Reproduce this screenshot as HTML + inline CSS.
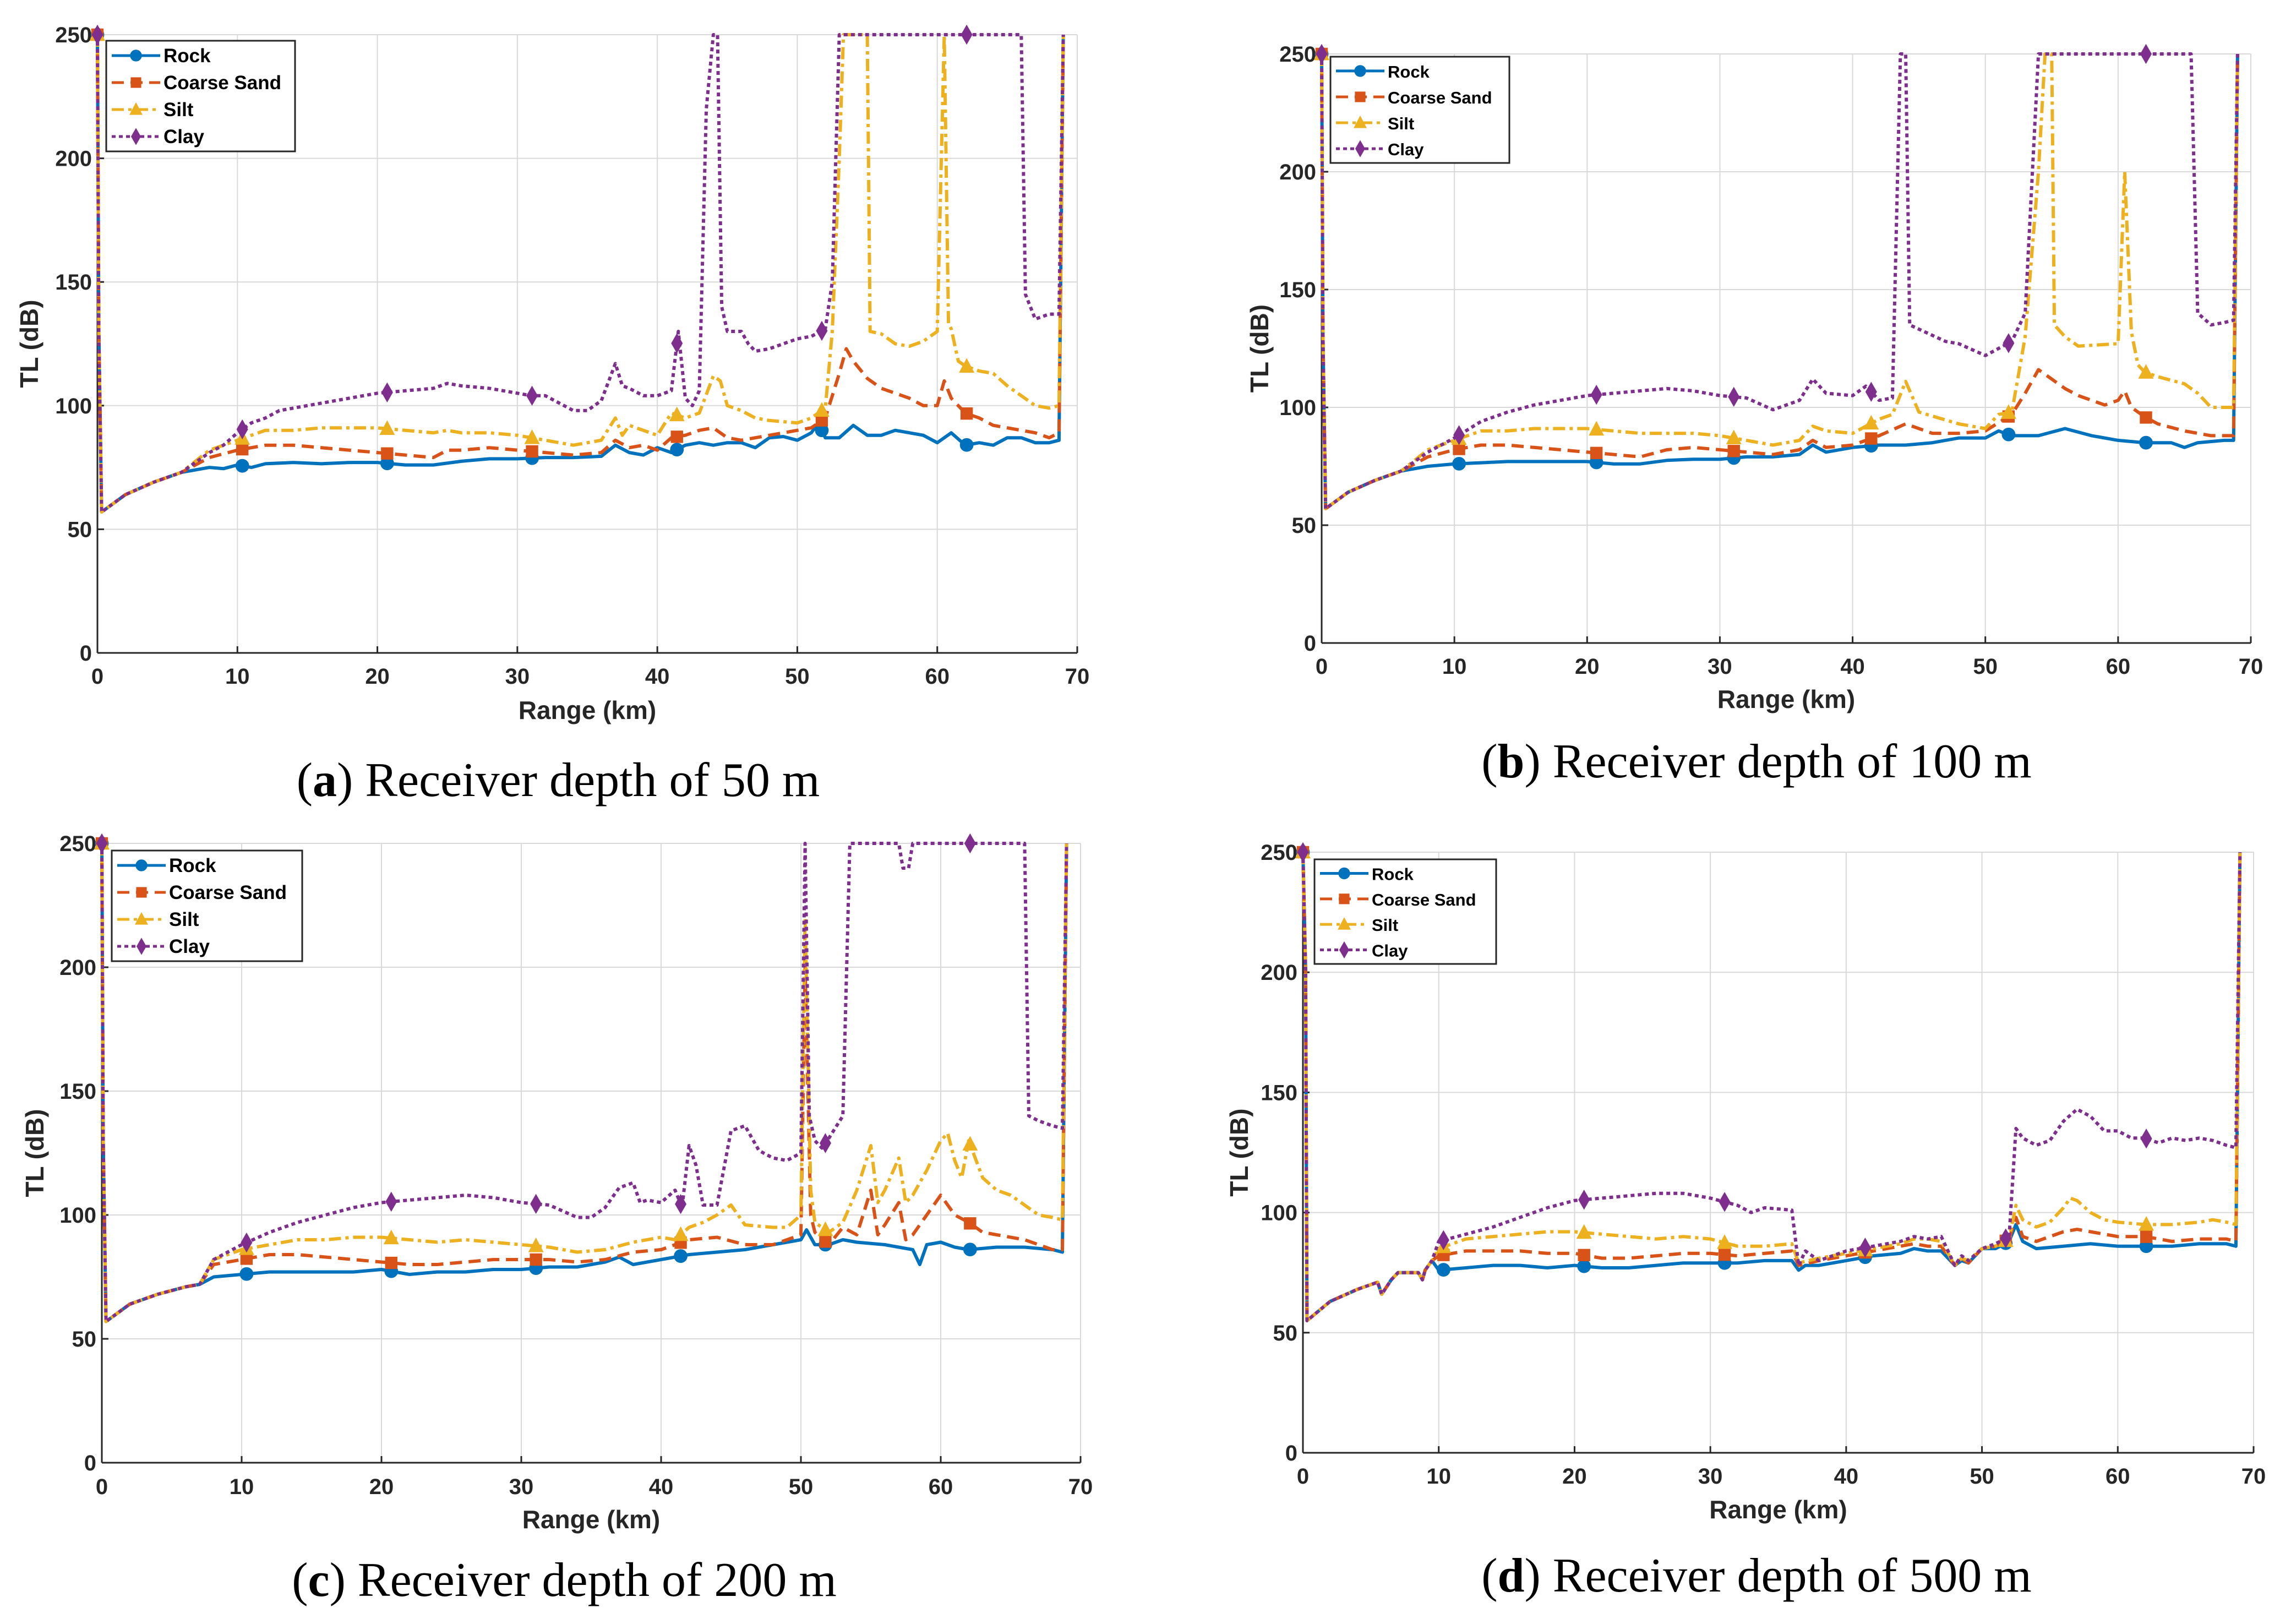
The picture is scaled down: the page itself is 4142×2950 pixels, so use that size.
<!DOCTYPE html>
<html><head><meta charset="utf-8">
<style>
html,body{margin:0;padding:0;background:#fff;}
svg{display:block;}
text{font-family:"Liberation Sans Narrow","Liberation Sans",sans-serif;}
.cap{font-family:"Liberation Serif",serif;font-size:88px;fill:#000;}
</style></head>
<body>
<svg id="fig" width="4142" height="2950" viewBox="0 0 4142 2950" xmlns="http://www.w3.org/2000/svg"></svg>
<script>
// ---- data ----
const xTicks = [0,10,20,30,40,50,60,70];
const yTicks = [0,50,100,150,200,250];
const seriesNames = ["Rock","Coarse Sand","Silt","Clay"];
const markerX = [0,10.35,20.7,31.05,41.4,51.75,62.1];
const captionsLetter = ["a","b","c","d"];
const captionsText = [") Receiver depth of 50 m",") Receiver depth of 100 m",") Receiver depth of 200 m",") Receiver depth of 500 m"];

const startA = [[0,250],[0.1,130],[0.3,57],[2,64],[4,69],[6,73]];
const a_rock = startA.concat([[8,75],[9,74.5],[10,76],[11,75],[12,76.5],[14,77],[16,76.5],[18,77],[20,77],[22,76],[24,76],[26,77.5],[28,78.5],[30,78.5],[32,79],[34,79],[36,79.5],[37,84],[38,81],[39,80],[40,83],[41,81],[42,84],[43,85],[44,84],[45,85],[46,85],[47,83],[48,87],[49,87.5],[50,86],[51,89],[51.5,93],[52,87],[53,87],[54,92],[55,88],[56,88],[57,90],[58,89],[59,88],[60,85],[61,89],[62,84],[63,85],[64,84],[65,87],[66,87],[67,85],[68,85],[68.7,86],[69,250]]);
const a_sand = startA.concat([[8,79],[10,82],[11,83],[12,84],[14,84],[16,83],[18,82],[20,81],[22,80],[24,79],[25,82],[26,82],[28,83],[30,82],[32,81],[34,80],[36,81],[37,86],[38,83],[39,84],[40,82],[41,87],[42,88],[43,90],[44,91],[45,87],[46,86],[48,88],[50,90],[51,91],[52,95],[53,113],[53.5,123],[54,118],[55,111],[56,107],[57,105],[58,103],[59,100],[60,100],[60.5,110],[61,103],[62,97],[63,95],[64,92],[65,91],[66,90],[67,89],[68,87],[68.7,89],[69,250]]);
const a_silt = startA.concat([[8,82],[10,86],[11,88],[12,90],[14,90],[16,91],[18,91],[20,91],[22,90],[24,89],[25,90],[26,89],[28,89],[30,88],[32,86],[34,84],[36,86],[37,95],[37.5,88],[38,92],[40,88],[41,97],[42,95],[43,97],[44,112],[44.5,110],[45,100],[46,98],[47,95],[48,94],[50,93],[51,95],[52,99],[52.5,130],[53,200],[53.3,250],[55,250],[55.2,130],[56,129],[57,125],[58,124],[59,126],[60,130],[60.5,250],[60.8,133],[61,131],[61.5,118],[62,116],[63,114],[64,113],[65,108],[66,104],[67,100],[68,99],[68.7,100],[69,250]]);
const a_clay = startA.concat([[8,81],[9,84],[10,89],[11,93],[12,95],[13,98],[14,99],[16,101],[18,103],[20,105],[22,106],[24,107],[25,109],[26,108],[28,107],[30,105],[31,104],[32,104],[34,98],[35,98],[36,102],[37,117],[37.5,108],[38,107],[39,104],[40,104],[41,106],[41.5,130],[42,103],[42.5,100],[43,106],[43.5,220],[44,250],[44.3,250],[44.6,140],[45,130],[46,130],[46.5,125],[47,122],[48,123],[50,127],[51,128],[52,131],[52.5,150],[53,250],[66,250],[66.3,145],[67,135],[68,137],[68.7,137],[69,250]]);

const b_rock = startA.concat([[8,75],[10,76],[12,76.5],[14,77],[16,77],[18,77],[20,77],[22,76],[24,76],[26,77.5],[28,78],[30,78],[32,79],[34,79],[36,80],[37,84],[38,81],[40,83],[42,84],[44,84],[46,85],[48,87],[50,87],[51,90],[52,88],[54,88],[56,91],[58,88],[60,86],[62,85],[64,85],[65,83],[66,85],[68,86],[68.7,86],[69,250]]);
const b_sand = startA.concat([[8,79],[10,82],[12,84],[14,84],[16,83],[18,82],[20,81],[22,80],[24,79],[26,82],[28,83],[30,82],[32,81],[34,80],[36,82],[37,86],[38,83],[40,84],[42,88],[44,93],[46,89],[48,89],[50,90],[52,97],[53,106],[54,116],[55,112],[56,108],[57,105],[58,103],[59,101],[60,103],[60.5,107],[61,100],[62,96],[63,93],[65,90],[67,88],[68.7,88],[69,250]]);
const b_silt = startA.concat([[8,82],[10,86],[12,90],[14,90],[16,91],[18,91],[20,91],[22,90],[24,89],[26,89],[28,89],[30,88],[32,86],[34,84],[36,86],[37,92],[38,90],[40,89],[42,95],[43,97],[44,111],[45,98],[48,93],[50,91],[51,97],[52,98],[53,130],[54,200],[54.5,250],[55,250],[55.2,135],[56,130],[57,126],[60,127],[60.5,200],[61,132],[61.5,118],[62,115],[63,113],[65,110],[66,106],[67,100],[68.7,100],[69,250]]);
const b_clay = startA.concat([[8,81],[10,87],[12,94],[14,98],[16,101],[18,103],[20,105],[22,106],[24,107],[26,108],[28,107],[30,105],[32,104],[34,99],[36,103],[37,112],[38,106],[40,105],[41,109],[42,103],[43,104],[43.6,250],[44,250],[44.3,135],[47,128],[48,127],[50,122],[52,128],[53,140],[54,250],[65.5,250],[66,140],[67,135],[68,136],[68.7,137],[69,250]]);

const startC = [[0,250],[0.1,130],[0.3,57],[2,64],[4,68],[6,71],[7,72]];
const c_rock = startC.concat([[8,75],[10,76],[12,77],[14,77],[16,77],[18,77],[20,78],[22,76],[24,77],[26,77],[28,78],[30,78],[32,79],[34,79],[36,81],[37,83],[38,80],[40,82],[42,84],[44,85],[46,86],[48,88],[50,90],[50.4,94],[51,88],[52,88],[53,90],[54,89],[56,88],[58,86],[58.5,80],[59,88],[60,89],[61,87],[62,86],[64,87],[66,87],[68,86],[68.7,85],[69,250]]);
const c_sand = startC.concat([[8,80],[10,82],[12,84],[14,84],[16,83],[18,82],[20,81],[22,80],[24,80],[26,81],[28,82],[30,82],[32,82],[34,81],[36,82],[38,85],[40,86],[42,90],[44,91],[46,88],[48,88],[50,92],[50.3,200],[50.7,100],[51,93],[52,88],[53,95],[54,92],[55,110],[55.5,92],[56,96],[57,105],[57.5,90],[58,92],[60,108],[61,100],[62,97],[63,93],[64,92],[66,90],[68,86],[68.7,86],[69,250]]);
const c_silt = startC.concat([[8,82],[10,86],[12,88],[14,90],[16,90],[18,91],[20,91],[22,90],[24,89],[26,90],[28,89],[30,88],[32,87],[34,85],[36,86],[38,89],[40,91],[41,90],[42,95],[43,97],[44,100],[45,104],[46,96],[48,95],[49,95],[50,100],[50.3,220],[50.7,110],[51,97],[52,93],[53,97],[54,110],[55,128],[55.5,105],[56,110],[57,123],[57.5,105],[58,108],[59,118],[60,130],[60.5,133],[61,122],[61.5,115],[62,130],[63,115],[64,110],[65,108],[66,104],[67,100],[68,99],[68.7,98],[69,250]]);
const c_clay = startC.concat([[8,82],[10,88],[12,93],[14,97],[16,100],[18,103],[20,105],[22,106],[24,107],[26,108],[28,107],[30,105],[32,104],[34,99],[35,99],[36,103],[37,111],[38,113],[38.5,105],[39,106],[40,105],[41,110],[41.5,103],[42,128],[42.5,120],[43,104],[44,104],[45,134],[46,136],[47,126],[48,123],[49,122],[50,125],[50.3,250],[50.6,140],[51,130],[51.5,127],[52,131],[53,140],[53.5,250],[57,250],[57.3,240],[57.7,240],[58,250],[66,250],[66.3,140],[67,138],[68,136],[68.7,135],[69,250]]);

const startD = [[0,250],[0.2,200],[0.3,55],[2,63],[4,68],[5.5,71],[5.8,66],[6.5,72],[7,75],[8.5,75],[8.8,72],[9,76],[9.5,80]];
const d_rock = startD.concat([[10,76],[12,77],[14,78],[16,78],[18,77],[20,78],[22,77],[24,77],[26,78],[28,79],[30,79],[32,79],[34,80],[36,80],[36.5,76],[37,78],[38,78],[40,80],[42,82],[44,83],[45,85],[46,84],[47,84],[48,78],[48.5,80],[49,79],[50,85],[51,85],[52,88],[52.5,95],[53,88],[54,85],[56,86],[58,87],[60,86],[62,86],[64,86],[66,87],[68,87],[68.7,86],[69,250]]);
const d_sand = startD.concat([[10,82],[12,84],[14,84],[16,84],[18,83],[20,83],[22,81],[24,81],[26,82],[28,83],[30,83],[32,82],[34,83],[36,84],[36.5,78],[38,80],[40,82],[42,84],[44,86],[45,87],[46,86],[47,86],[48,78],[48.5,81],[49,79],[50,85],[51,86],[52,89],[52.5,98],[53,90],[54,88],[56,92],[57,93],[58,92],[60,90],[62,90],[64,88],[66,89],[68,89],[68.7,88],[69,250]]);
const d_silt = startD.concat([[10,85],[12,89],[14,90],[16,91],[18,92],[20,92],[22,91],[24,90],[26,89],[28,90],[30,89],[32,86],[34,86],[36,87],[36.5,79],[38,81],[40,83],[42,85],[44,87],[45,89],[46,89],[47,88],[48,78],[48.5,81],[49,80],[50,85],[51,86],[52,89],[52.5,103],[53,97],[54,94],[55,96],[56,102],[56.5,106],[57,105],[58,100],[59,97],[60,96],[62,95],[64,95],[66,96],[67,97],[68,96],[68.7,95],[69,250]]);
const d_clay = startD.concat([[10,88],[12,91],[14,94],[16,98],[18,102],[20,105],[22,106],[24,107],[26,108],[28,108],[30,106],[32,103],[33,100],[34,102],[36,101],[36.5,78],[37,84],[38,80],[40,84],[42,86],[44,88],[45,90],[46,89],[47,90],[48,78],[48.5,82],[49,80],[50,85],[51,87],[52,90],[52.5,135],[53,131],[54,128],[55,130],[56,138],[57,143],[58,140],[59,134],[60,134],[61,131],[62,131],[63,129],[64,131],[65,130],[66,131],[67,130],[68,128],[68.7,127],[69,250]]);

const panelData = [[a_rock,a_sand,a_silt,a_clay],[b_rock,b_sand,b_silt,b_clay],[c_rock,c_sand,c_silt,c_clay],[d_rock,d_sand,d_silt,d_clay]];

// ---- layout (pixels) ----
const layout = [
 {x0:177,x1:1957,y0:1186,y1:63, leg:[193,74,343,201], ylab:53, tick:1228, xlab:1290, cap:1418, capx:1014},
 {x0:2401,x1:4089,y0:1168,y1:98, leg:[2417,103,325,193], ylab:2288, tick:1210, xlab:1270, cap:1384, capx:3191},
 {x0:185,x1:1963,y0:2657,y1:1532, leg:[203,1545,346,201], ylab:63, tick:2700, xlab:2760, cap:2871, capx:1025},
 {x0:2367,x1:4094,y0:2639,y1:1548, leg:[2388,1561,330,190], ylab:2251, tick:2681, xlab:2742, cap:2863, capx:3191}
];
const colors = ["#0072BD","#D95319","#EDB120","#7E2F8E"];
const dashes = ["", "22 12", "22 8 6 8", "7 6"];
const NS = "http://www.w3.org/2000/svg";
const fig = document.getElementById('fig');
function mk(tag, attrs, parent){const e=document.createElementNS(NS,tag);for(const k in attrs)e.setAttribute(k,attrs[k]);(parent||fig).appendChild(e);return e;}
function interp(s,x){for(let i=1;i<s.length;i++){if(s[i][0]>=x){const a=s[i-1],b=s[i];const t=(x-a[0])/(b[0]-a[0]||1);return a[1]+t*(b[1]-a[1]);}}return s[s.length-1][1];}
function marker(g,type,cx,cy,col,r){
  let e;
  if(type===0){e=mk('circle',{cx:cx,cy:cy,r:r*0.85,fill:col,stroke:col},g);}
  else if(type===1){e=mk('rect',{x:cx-r*0.8,y:cy-r*0.8,width:r*1.6,height:r*1.6,fill:col},g);}
  else if(type===2){e=mk('polygon',{points:`${cx},${cy-r*1.1} ${cx+r},${cy+r*0.8} ${cx-r},${cy+r*0.8}`,fill:col},g);}
  else {e=mk('polygon',{points:`${cx},${cy-r*1.3} ${cx+r*0.75},${cy} ${cx},${cy+r*1.3} ${cx-r*0.75},${cy}`,fill:col},g);}
  return e;
}

layout.forEach((L,pi)=>{
  const g = mk('g',{});
  
  
  const xs = v=>L.x0+(v-0)/70*(L.x1-L.x0);
  const ys = v=>L.y0+(v-0)/250*(L.y1-L.y0);
  const grid = mk('g',{stroke:"#d9d9d9","stroke-width":2},g);
  
  
  xTicks.forEach(t=>{mk('line',{x1:xs(t),x2:xs(t),y1:L.y0,y2:L.y1},grid);});
  yTicks.forEach(t=>{mk('line',{x1:L.x0,x2:L.x1,y1:ys(t),y2:ys(t)},grid);});
  const xa = mk('line',{x1:L.x0,x2:L.x1,y1:L.y0,y2:L.y0,stroke:"#262626","stroke-width":3},g);
  
  
  const ya = mk('line',{x1:L.x0,x2:L.x0,y1:L.y0,y2:L.y1,stroke:"#262626","stroke-width":3},g);
  
  
  xTicks.forEach(t=>{
    mk('line',{x1:xs(t),x2:xs(t),y1:L.y0,y2:L.y0-12,stroke:"#262626","stroke-width":3},g);
    const tx = mk('text',{x:xs(t),y:L.tick+14,"text-anchor":"middle","font-size":40,"font-weight":"bold",fill:"#262626"},g);
    tx.textContent=t;
    
    
  });
  yTicks.forEach(t=>{
    mk('line',{x1:L.x0,x2:L.x0+12,y1:ys(t),y2:ys(t),stroke:"#262626","stroke-width":3},g);
    const tx = mk('text',{x:L.x0-10,y:ys(t)+14,"text-anchor":"end","font-size":40,"font-weight":"bold",fill:"#262626"},g);
    tx.textContent=t;
    
    
  });
  const xl = mk('text',{x:(L.x0+L.x1)/2,y:L.xlab+16,"text-anchor":"middle","font-size":46,"font-weight":"bold",fill:"#262626"},g);
  xl.textContent="Range (km)";
  
  
  const yc=(L.y0+L.y1)/2;
  const yl = mk('text',{x:L.ylab,y:yc,"text-anchor":"middle","font-size":46,"font-weight":"bold",fill:"#262626",transform:`rotate(-90 ${L.ylab} ${yc}) translate(0 16)`},g);
  yl.setAttribute('style','font-family:"Liberation Sans",sans-serif');
  yl.textContent="TL (dB)";
  
  
  panelData[pi].forEach((s,si)=>{
    const sg = mk('g',{},g);
    
    
    const pts = s.map(p=>xs(p[0]).toFixed(1)+","+ys(Math.min(250,p[1])).toFixed(1)).join(" ");
    const pl = mk('polyline',{points:pts,fill:"none",stroke:colors[si],"stroke-width":6,"stroke-linejoin":"round"},sg);
    if(dashes[si]) pl.setAttribute('stroke-dasharray',dashes[si]);
    
    
    markerX.forEach(mx=>{
      const m = marker(sg,si,xs(mx),ys(Math.min(250,interp(s,mx))),colors[si],14);
      
      
    });
  });
  const [lx,ly,lw,lh]=L.leg;
  const lg = mk('g',{},g);
  
  
  mk('rect',{x:lx,y:ly,width:lw,height:lh,fill:"#fff",stroke:"#262626","stroke-width":3},lg);
  const fs = lw < 335 ? 31 : 35;
  seriesNames.forEach((n,si)=>{
    const ey = ly+lh*(si+0.55)/4.1;
    const eg = mk('g',{},lg);
    
    
    const ln = mk('line',{x1:lx+10,x2:lx+98,y1:ey,y2:ey,stroke:colors[si],"stroke-width":5},eg);
    if(dashes[si]) ln.setAttribute('stroke-dasharray',dashes[si]);
    marker(eg,si,lx+54,ey,colors[si],12);
    const t = mk('text',{x:lx+104,y:ey+12,"font-size":fs,"font-weight":"bold",fill:"#000"},eg);
    t.textContent=n;
  });
  const cp = mk('text',{x:L.capx,y:L.cap+28,"text-anchor":"middle",class:"cap"},fig);
  
  
  const t1 = mk('tspan',{},cp); t1.textContent="(";
  const t2 = mk('tspan',{"font-weight":"bold"},cp); t2.textContent=captionsLetter[pi];
  const t3 = mk('tspan',{},cp); t3.textContent=captionsText[pi];
});
</script>
</body></html>
